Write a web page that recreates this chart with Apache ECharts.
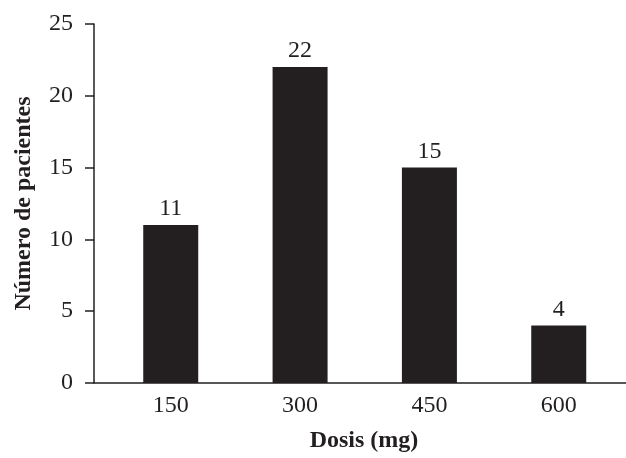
<!DOCTYPE html>
<html>
<head>
<meta charset="utf-8">
<script src="https://cdn.jsdelivr.net/npm/echarts@6/dist/echarts.min.js"></script>
<style>html,body{margin:0;padding:0;background:#fff}#c{width:626px;height:458px}</style>
</head>
<body>
<div id="c"></div>
<script>
const doses = [150, 300, 450, 600];
const patients = [11, 22, 15, 4];
const yTicks = [0, 5, 10, 15, 20, 25];

const ink = '#231f20';
const serif = '"Liberation Serif", "Times New Roman", serif';
const chart = echarts.init(document.getElementById('c'));
chart.setOption({
  animation: false,
  grid: { left: 94, right: 0, top: 24, bottom: 74 },
  xAxis: {
    type: 'value',
    min: 61, max: 678,
    name: 'Dosis (mg)',
    nameLocation: 'middle',
    nameGap: 46,
    nameTextStyle: { fontFamily: serif, fontWeight: 'bold', fontSize: 24, color: ink, padding: [0, 0, 0, 8] },
    axisLine: { show: true, lineStyle: { color: ink, width: 1.5 } },
    axisTick: { show: false },
    splitLine: { show: false },
    axisLabel: {
      customValues: doses,
      margin: 11,
      fontFamily: serif, fontSize: 24, color: ink
    }
  },
  yAxis: {
    type: 'value',
    min: yTicks[0], max: yTicks[yTicks.length - 1], interval: 5,
    name: 'Número de pacientes',
    nameLocation: 'middle',
    nameGap: 58,
    nameTextStyle: { fontFamily: serif, fontWeight: 'bold', fontSize: 24, color: ink },
    axisLine: { show: true, lineStyle: { color: ink, width: 1.5 } },
    axisTick: { show: true, length: 9, lineStyle: { color: ink, width: 1.5 } },
    splitLine: { show: false },
    axisLabel: { margin: 21, fontFamily: serif, fontSize: 24, color: ink }
  },
  series: [{
    type: 'bar',
    data: doses.map((d, i) => [d, patients[i]]),
    barWidth: 55,
    itemStyle: { color: ink },
    label: {
      show: true, position: 'top', distance: 4,
      fontFamily: serif, fontSize: 24, color: ink,
      formatter: p => p.value[1]
    }
  }]
});
</script>
</body>
</html>
